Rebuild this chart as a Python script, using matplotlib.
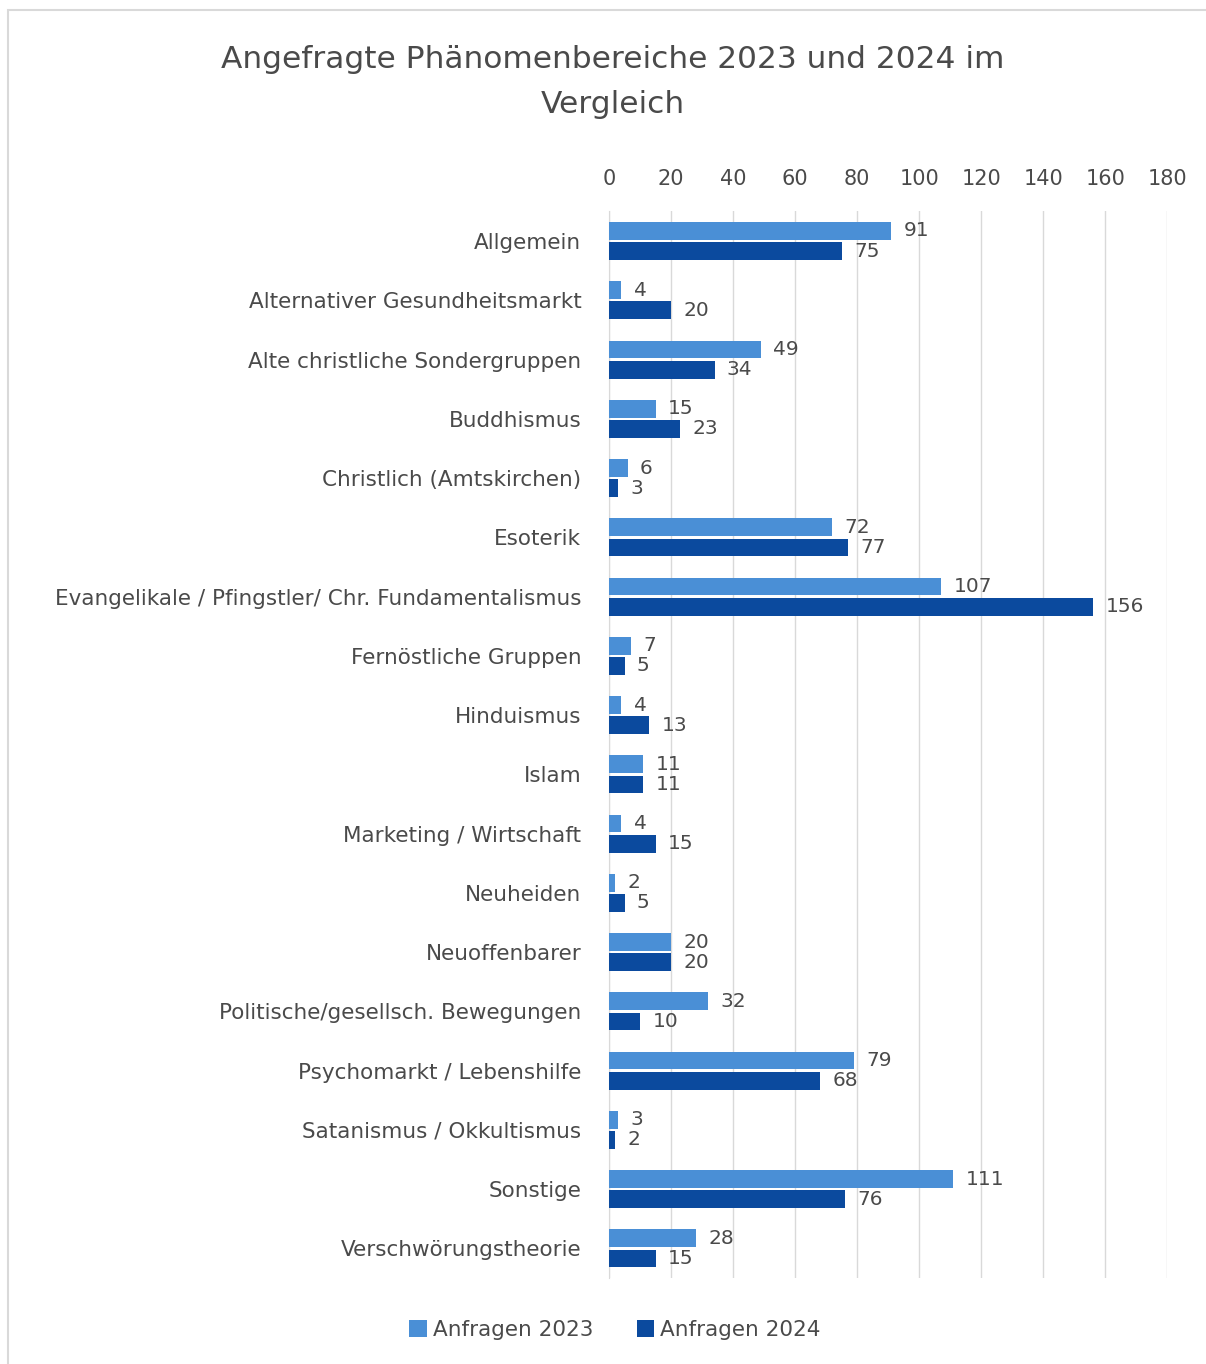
import numpy as np
import matplotlib.pyplot as plt
from matplotlib.patches import Rectangle

# Data
categories = [
    "Allgemein",
    "Alternativer Gesundheitsmarkt",
    "Alte christliche Sondergruppen",
    "Buddhismus",
    "Christlich (Amtskirchen)",
    "Esoterik",
    "Evangelikale / Pfingstler/ Chr. Fundamentalismus",
    "Fernöstliche Gruppen",
    "Hinduismus",
    "Islam",
    "Marketing / Wirtschaft",
    "Neuheiden",
    "Neuoffenbarer",
    "Politische/gesellsch. Bewegungen",
    "Psychomarkt / Lebenshilfe",
    "Satanismus / Okkultismus",
    "Sonstige",
    "Verschwörungstheorie",
]
anfragen_2023 = [91, 4, 49, 15, 6, 72, 107, 7, 4, 11, 4, 2, 20, 32, 79, 3, 111, 28]
anfragen_2024 = [75, 20, 34, 23, 3, 77, 156, 5, 13, 11, 15, 5, 20, 10, 68, 2, 76, 15]
x_ticks = list(range(0, 181, 20))

color_2023 = "#4a8fd6"
color_2024 = "#0b4a9e"
text_color = "#4a4a4a"

plt.rcParams["font.family"] = ["DejaVu Sans"]

fig = plt.figure(figsize=(12.06, 13.64), dpi=100)
ax = fig.add_axes([0.505, 0.063, 0.463, 0.782])

# outer frame like the screenshot
fig.patches.append(Rectangle((8 / 1206, -0.01), 1.02, 1 - 10 / 1364 + 0.01,
                             transform=fig.transFigure, fill=False,
                             edgecolor="#d9d9d9", linewidth=1.5))

y = np.arange(len(categories))
h = 0.3
b1 = ax.barh(y - h / 2 - 0.02, anfragen_2023, height=h, color=color_2023, label="Anfragen 2023", zorder=3)
b2 = ax.barh(y + h / 2 + 0.02, anfragen_2024, height=h, color=color_2024, label="Anfragen 2024", zorder=3)

for bars, vals in ((b1, anfragen_2023), (b2, anfragen_2024)):
    for bar, v in zip(bars, vals):
        ax.text(bar.get_width() + 4, bar.get_y() + bar.get_height() / 2, str(v),
                va="center", ha="left", fontsize=14.5, color=text_color)

ax.set_ylim(len(categories) - 0.5, -0.5)
ax.set_xlim(0, 180)
ax.set_xticks(x_ticks)
ax.xaxis.tick_top()
ax.tick_params(axis="x", length=0, labelsize=15, labelcolor=text_color, pad=16)
ax.set_yticks(y)
ax.set_yticklabels(categories)
ax.tick_params(axis="y", length=0, labelsize=15.5, labelcolor=text_color, pad=20)

ax.grid(axis="x", color="#d9d9d9", linewidth=1, zorder=0)
for side in ["top", "right", "bottom"]:
    ax.spines[side].set_visible(False)
ax.spines["left"].set_color("#d9d9d9")

fig.text(0.508, 0.94, "Angefragte Phänomenbereiche 2023 und 2024 im\nVergleich",
         ha="center", va="center", fontsize=22.5, color=text_color,
         linespacing=1.7)

fig.legend(handles=[b1, b2], loc="center", bbox_to_anchor=(0.51, 0.025), ncol=2,
           frameon=False, fontsize=15.5, handlelength=0.8, handleheight=0.8,
           handletextpad=0.3, columnspacing=2.0, labelcolor=text_color)

fig.savefig("out.png", dpi=100)
